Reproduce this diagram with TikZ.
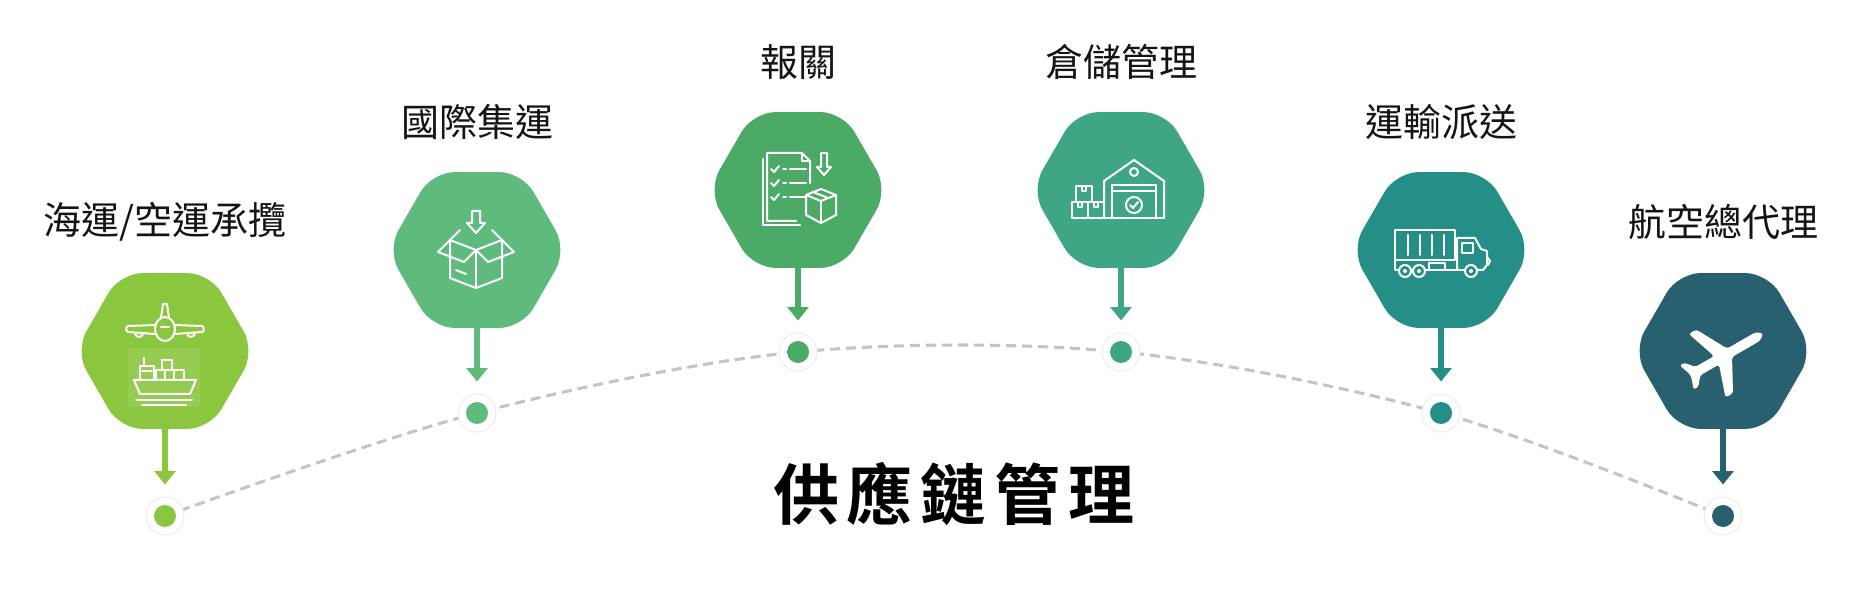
\documentclass[tikz,border=0pt]{standalone}
\usepackage{fontspec}
\newfontfamily\cjk{Noto Sans CJK TC}
\newfontfamily\cjkb{Noto Sans CJK TC Bold}
\usetikzlibrary{shapes.geometric,arrows.meta}
\definecolor{cA}{RGB}{139,198,63}
\definecolor{cB}{RGB}{95,187,125}
\definecolor{cC}{RGB}{74,170,102}
\definecolor{cD}{RGB}{62,166,134}
\definecolor{cE}{RGB}{36,142,135}
\definecolor{cF}{RGB}{40,96,112}
\definecolor{dashgray}{RGB}{196,196,196}
\begin{document}
\begin{tikzpicture}[x=0.75pt,y=-0.75pt,
  hex/.style={regular polygon, regular polygon sides=6, minimum size=135pt, inner sep=0pt, rounded corners=17pt, fill=#1},
  lab/.style={font=\cjk\fontsize{28.5}{30}\selectfont, text=black!92, inner sep=0pt},
  halo/.style={circle, minimum size=28.5pt, inner sep=0pt, fill=white, draw=black!7, line width=0.75pt},
  dotn/.style={circle, minimum size=16.5pt, inner sep=0pt, fill=#1},
  arr/.style={draw=#1, line width=3.8pt, -{Triangle[width=15.5pt,length=10pt]}, shorten >=9pt},
  dashline/.style={draw=dashgray, line width=2.3pt, dash pattern=on 7.5pt off 4.5pt},
  icon/.style={draw=white, line width=1.5pt, line join=round, line cap=round}]
\useasboundingbox (0,0) rectangle (1860,591);
\fill[white] (0,0) rectangle (1860,591);

% halo positions
\coordinate (p1) at (165,516);
\coordinate (p2) at (477,413);
\coordinate (p3) at (798,352);
\coordinate (p4) at (1121,352);
\coordinate (p5) at (1441,413);
\coordinate (p6) at (1723,516);

\draw[dashline] plot[smooth, tension=0.55] coordinates {(p1) (p2) (p3) (p4) (p5) (p6)};

\node[halo] (c1) at (p1) {};
\node[halo] (c2) at (p2) {};
\node[halo] (c3) at (p3) {};
\node[halo] (c4) at (p4) {};
\node[halo] (c5) at (p5) {};
\node[halo] (c6) at (p6) {};
\node[dotn=cA] (d1) at (c1) {};
\node[dotn=cB] (d2) at (c2) {};
\node[dotn=cC] (d3) at (c3) {};
\node[dotn=cD] (d4) at (c4) {};
\node[dotn=cE] (d5) at (c5) {};
\node[dotn=cF] (d6) at (c6) {};

% hexagons
\node[hex=cA] (h1) at (165,351) {};
\node[hex=cB] (h2) at (477,250) {};
\node[hex=cC] (h3) at (798,190) {};
\node[hex=cD] (h4) at (1121,190) {};
\node[hex=cE] (h5) at (1441,250) {};
\node[hex=cF] (h6) at (1723,351) {};

% arrows
\draw[arr=cA] (h1.south) -- (c1.north);
\draw[arr=cB] (h2.south) -- (c2.north);
\draw[arr=cC] (h3.south) -- (c3.north);
\draw[arr=cD] (h4.south) -- (c4.north);
\draw[arr=cE] (h5.south) -- (c5.north);
\draw[arr=cF] (h6.south) -- (c6.north);

% labels
\node[lab] (l1) at (165,222) {海運/空運承攬};
\node[lab] (l2) at (477,122) {國際集運};
\node[lab] (l3) at (798,62) {報關};
\node[lab] (l4) at (1121,62) {倉儲管理};
\node[lab] (l5) at (1441,122) {運輸派送};
\node[lab] (l6) at (1723,222) {航空總代理};

\node[font=\cjkb\fontsize{49.5}{52}\selectfont, text=black, inner sep=0pt] (title) at (954,494) {供\hspace{6pt}應\hspace{6pt}鏈\hspace{6pt}管\hspace{6pt}理};

% icon 1a: airplane front view
\begin{scope}[shift={(165,325)}]
  \draw[icon] (0,4) ellipse [x radius=10, y radius=12];
  \draw[icon] (-4,-7) -- (-2,-21) -- (2,-21) -- (4,-7);
  \draw[icon] (-9,0) -- (-37,1) to[out=180,in=180] (-37,7) -- (-10,9);
  \draw[icon] (9,0) -- (37,1) to[out=0,in=0] (37,7) -- (10,9);
  \draw[icon] (-22,8) arc[start angle=0,end angle=180,radius=4];
  \draw[icon] (30,8) arc[start angle=0,end angle=180,radius=4];
  \draw[icon] (-4,2) -- (4,2);
\end{scope}
% icon 1b: ship
\fill[white, opacity=0.1] (128,348) rectangle (200,407);
\begin{scope}[shift={(164,378)}]
  \draw[icon] (-30,2) -- (32,2) -- (26,16) -- (-24,16) -- cycle;
  \draw[icon] (-28,22) -- (28,22);
  \draw[icon] (-22,27) -- (22,27);
  \draw[icon] (-24,2) -- (-24,-12) -- (-10,-12) -- (-10,2);
  \draw[icon] (-22,-7) -- (-12,-7);
  \draw[icon] (-20,-12) -- (-20,-20);
  \draw[icon] (-8,-8) rectangle (20,2);
  \draw[icon] (1,-8) -- (1,2) (10,-8) -- (10,2);
  \draw[icon] (-2,-18) rectangle (8,-8);
\end{scope}

% icon 2: open box with arrow
\begin{scope}[shift={(476,250)}]
  \draw[icon] (-4,-39) -- (4,-39) -- (4,-27) -- (9,-27) -- (0,-17) -- (-9,-27) -- (-4,-27) -- cycle;
  \draw[icon] (-26,-10) -- (-16,-20);
  \draw[icon] (26,-10) -- (16,-20);
  \draw[icon] (-26,-10) -- (0,0) -- (26,-10);
  \draw[icon] (-26,-10) -- (-26,28) -- (0,38) -- (26,28) -- (26,-10);
  \draw[icon] (0,0) -- (0,38);
  \draw[icon] (-26,-10) -- (-38,2) -- (-12,12) -- (0,0);
  \draw[icon] (26,-10) -- (38,2) -- (12,12) -- (0,0);
  \draw[icon] (-20,20) -- (-10,24);
\end{scope}

% icon 3: customs documents
\begin{scope}[shift={(800,189)}]
  \draw[icon] (-37,-30) -- (-37,36) -- (0,36);
  \draw[icon] (-4,32) -- (-33,32) -- (-33,-36) -- (2,-36) -- (10,-28) -- (10,-6);
  \draw[icon] (2,-36) -- (2,-28) -- (10,-28);
  \foreach \yy in {-20,-6,8} {
    \draw[icon] (-29,\yy) -- (-26,\yy+3) -- (-21,\yy-3);
    \draw[icon] (-17,\yy) -- (-14,\yy);
    \draw[icon] (-10,\yy) -- (6,\yy);
  }
  \draw[icon] (21,-36) -- (27,-36) -- (27,-22) -- (31,-22) -- (24,-14) -- (17,-22) -- (21,-22) -- cycle;
  \fill[cC] (6,6) -- (21,0) -- (36,6) -- (36,26) -- (21,34) -- (6,26) -- cycle;
  \draw[icon] (6,6) -- (21,0) -- (36,6) -- (21,12) -- cycle;
  \draw[icon] (6,6) -- (6,26) -- (21,34) -- (36,26) -- (36,6);
  \draw[icon] (21,12) -- (21,34);
  \draw[icon] (13,3) -- (28,9);
\end{scope}

% icon 4: warehouse
\begin{scope}[shift={(1118,189)}]
  \draw[icon] (-14,29) -- (-14,-8) -- (16,-29) -- (46,-8) -- (46,29);
  \draw[icon] (-46,29) -- (46,29);
  \draw[icon] (16,-17) circle [radius=4];
  \draw[icon] (-6,29) -- (-6,-4) -- (38,-4) -- (38,29);
  \draw[icon] (-6,2) -- (38,2);
  \draw[icon] (16,16) circle [radius=8];
  \draw[icon] (12,16) -- (15,19) -- (20,13);
  \draw[icon] (-46,13) rectangle (-30,29);
  \draw[icon] (-30,13) rectangle (-14,29);
  \draw[icon] (-42,-3) rectangle (-26,13);
  \draw[icon] (-40,13) -- (-40,18) -- (-36,18) -- (-36,13);
  \draw[icon] (-24,13) -- (-24,18) -- (-20,18) -- (-20,13);
  \draw[icon] (-36,-3) -- (-36,2) -- (-32,2) -- (-32,-3);
\end{scope}

% icon 5: truck
\begin{scope}[shift={(1441,253)}]
  \draw[icon] (-46,-23) rectangle (14,7);
  \draw[icon] (-33,-18) -- (-33,2) (-21,-18) -- (-21,2) (-9,-18) -- (-9,2) (3,-18) -- (3,2);
  \draw[icon] (-46,7) -- (-46,17) -- (-42,17);
  \draw[icon] (-30,17) -- (-28,17);
  \draw[icon] (-16,17) -- (24,17);
  \draw[icon] (-12,10) rectangle (4,17);
  \draw[icon] (36,17) -- (42,17) -- (46,12) -- (46,-2) -- (40,-4) -- (34,-15) -- (16,-15) -- (16,17);
  \draw[icon] (21,-10) rectangle (32,0);
  \draw[icon] (46,4) -- (49,8) -- (47,12);
  \draw[icon] (-36,18) circle [radius=6];
  \draw[icon] (-22,18) circle [radius=6];
  \draw[icon] (30,18) circle [radius=6];
  \fill[white] (-36,18) circle [radius=2] (-22,18) circle [radius=2] (30,18) circle [radius=2];
\end{scope}

% icon 6: solid airplane
\begin{scope}[shift={(1724,356)}, rotate=30, scale=1.08]
  \fill[white, rounded corners=2pt] (42,0) -- (36,-4.5) -- (6,-4.5) -- (-10,-34) -- (-18,-34) -- (-8,-4.5) -- (-28,-4.5) -- (-35,-13) -- (-40,-13) -- (-36,-2) -- (-36,2) -- (-40,13) -- (-35,13) -- (-28,4.5) -- (-8,4.5) -- (-18,34) -- (-10,34) -- (6,4.5) -- (36,4.5) -- cycle;
\end{scope}
\end{tikzpicture}
\end{document}
